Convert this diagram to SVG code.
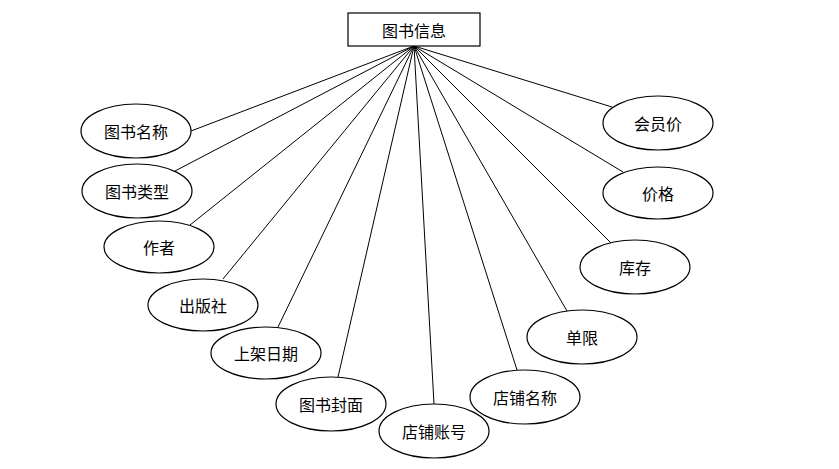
<svg xmlns="http://www.w3.org/2000/svg" width="839" height="469" viewBox="0 0 839 469">
<style>
.n{fill:#fff;stroke:#000;stroke-width:1.2}
.c line{stroke:#000;stroke-width:1}
text{font-family:"Noto Sans CJK SC","Liberation Sans",sans-serif;font-size:16px;fill:#000;text-anchor:middle;dominant-baseline:central}
</style>
<rect width="839" height="469" fill="#fff"/>
<g class="c" id="connectors">
<line x1="414" y1="46" x2="191" y2="131"/>
<line x1="414" y1="46" x2="175" y2="171"/>
<line x1="414" y1="46" x2="190" y2="225"/>
<line x1="414" y1="46" x2="223" y2="279"/>
<line x1="414" y1="46" x2="278" y2="327"/>
<line x1="414" y1="46" x2="338" y2="377"/>
<line x1="414" y1="46" x2="434" y2="404"/>
<line x1="414" y1="46" x2="517" y2="370"/>
<line x1="414" y1="46" x2="567" y2="311"/>
<line x1="414" y1="46" x2="611" y2="243"/>
<line x1="414" y1="46" x2="623" y2="172"/>
<line x1="414" y1="46" x2="612" y2="107"/>
</g>
<g id="book"><rect class="n" x="348" y="13" width="132" height="33"/><text x="414" y="29.5">图书信息</text></g>
<g id="name"><ellipse class="n" cx="136" cy="131" rx="55" ry="27"/><text x="136" y="131">图书名称</text></g>
<g id="type"><ellipse class="n" cx="137" cy="191" rx="55" ry="27"/><text x="137" y="191">图书类型</text></g>
<g id="author"><ellipse class="n" cx="159" cy="247" rx="55" ry="26"/><text x="159" y="247">作者</text></g>
<g id="publisher"><ellipse class="n" cx="203" cy="305" rx="55" ry="26"/><text x="203" y="305">出版社</text></g>
<g id="date"><ellipse class="n" cx="266" cy="353" rx="55" ry="26"/><text x="266" y="353">上架日期</text></g>
<g id="cover"><ellipse class="n" cx="331" cy="404" rx="55" ry="27"/><text x="331" y="404">图书封面</text></g>
<g id="account"><ellipse class="n" cx="434" cy="431" rx="55" ry="27"/><text x="434" y="431">店铺账号</text></g>
<g id="shop"><ellipse class="n" cx="525" cy="397" rx="55" ry="27"/><text x="525" y="397">店铺名称</text></g>
<g id="limit"><ellipse class="n" cx="582" cy="337" rx="55" ry="27"/><text x="582" y="337">单限</text></g>
<g id="stock"><ellipse class="n" cx="635" cy="267" rx="55" ry="27"/><text x="635" y="267">库存</text></g>
<g id="price"><ellipse class="n" cx="658" cy="193" rx="55" ry="26"/><text x="658" y="193">价格</text></g>
<g id="member"><ellipse class="n" cx="658" cy="123" rx="55" ry="27"/><text x="658" y="123">会员价</text></g>
</svg>
